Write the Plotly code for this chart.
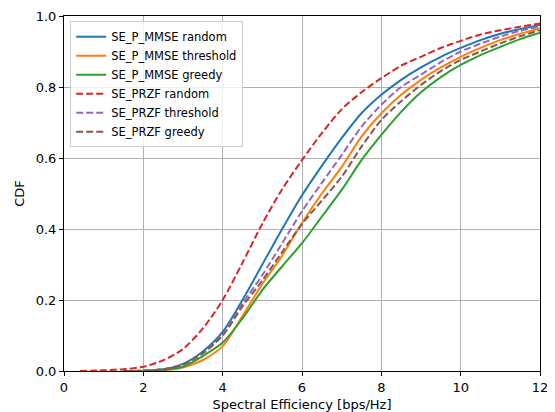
import plotly.graph_objects as go

# CDF curves (x in bps/Hz)
x_red = [0.4, 1.0, 1.5, 2.0, 2.5, 3.0, 3.5, 4.0, 4.5, 5.0, 5.5, 6.0, 6.5, 7.0, 7.5, 8.0, 8.5, 9.0, 9.5, 10.0, 10.5, 11.0, 11.5, 12.0]
przf_random = [0.0, 0.002, 0.005, 0.012, 0.03, 0.062, 0.12, 0.2, 0.305, 0.415, 0.512, 0.594, 0.67, 0.737, 0.785, 0.825, 0.86, 0.885, 0.91, 0.93, 0.948, 0.96, 0.97, 0.979]

x_grid = [1.5, 2.0, 2.5, 3.0, 3.5, 4.0, 4.5, 5.0, 5.5, 6.0, 6.5, 7.0, 7.5, 8.0, 8.5, 9.0, 9.5, 10.0, 10.5, 11.0, 11.5, 12.0]
pmmse_random = [0.0, 0.001, 0.005, 0.02, 0.055, 0.11, 0.2, 0.3, 0.4, 0.495, 0.578, 0.656, 0.726, 0.778, 0.82, 0.855, 0.885, 0.91, 0.932, 0.95, 0.963, 0.975]
pmmse_threshold = [0.0, 0.0, 0.002, 0.01, 0.031, 0.07, 0.155, 0.245, 0.325, 0.417, 0.5, 0.575, 0.66, 0.726, 0.778, 0.82, 0.855, 0.885, 0.91, 0.932, 0.95, 0.965]
pmmse_greedy = [0.0, 0.0, 0.003, 0.012, 0.042, 0.08, 0.148, 0.228, 0.295, 0.36, 0.435, 0.51, 0.594, 0.665, 0.73, 0.785, 0.828, 0.862, 0.89, 0.913, 0.935, 0.953]
przf_threshold = [0.0, 0.001, 0.005, 0.018, 0.05, 0.102, 0.19, 0.27, 0.36, 0.45, 0.53, 0.608, 0.688, 0.75, 0.8, 0.835, 0.87, 0.9, 0.922, 0.942, 0.958, 0.97]
przf_greedy = [0.0, 0.001, 0.005, 0.018, 0.05, 0.1, 0.182, 0.255, 0.335, 0.414, 0.48, 0.547, 0.632, 0.707, 0.76, 0.806, 0.845, 0.876, 0.9, 0.923, 0.943, 0.96]

series = [
    ("SE_P_MMSE random", x_grid, pmmse_random, "#1f77b4", "solid"),
    ("SE_P_MMSE threshold", x_grid, pmmse_threshold, "#ff7f0e", "solid"),
    ("SE_P_MMSE greedy", x_grid, pmmse_greedy, "#2ca02c", "solid"),
    ("SE_PRZF random", x_red, przf_random, "#d62728", "7px,3px"),
    ("SE_PRZF threshold", x_grid, przf_threshold, "#9467bd", "7px,3px"),
    ("SE_PRZF greedy", x_grid, przf_greedy, "#8c564b", "7px,3px"),
]

fig = go.Figure()
for name, xs, ys, color, dash in series:
    fig.add_trace(go.Scatter(
        x=xs, y=ys, mode="lines", name=name,
        line=dict(color=color, width=2, dash=dash, shape="spline", smoothing=0.8),
    ))

axis_style = dict(
    showgrid=True, gridcolor="#b0b0b0", gridwidth=1,
    showline=True, linecolor="black", linewidth=1, mirror=True,
    ticks="outside", ticklen=4, tickcolor="black",
    zeroline=False, tickfont=dict(size=13, color="black"),
    automargin=False,
)

# page body keeps an 8px margin, so the figure is sized to fit the window
fig.update_layout(
    width=547, height=404,
    margin=dict(l=56, r=15, t=8, b=41),
    paper_bgcolor="white", plot_bgcolor="white",
    font=dict(family="DejaVu Sans", color="black"),
    xaxis=dict(range=[0, 12], dtick=2, title=dict(text="Spectral Efficiency [bps/Hz]", font=dict(size=13), standoff=8), **axis_style),
    yaxis=dict(range=[0, 1], dtick=0.2, tickformat=".1f", title=dict(text="CDF", font=dict(size=13), standoff=8), **axis_style),
    legend=dict(
        x=0.013, y=0.985, xanchor="left", yanchor="top",
        bgcolor="rgba(255,255,255,0.8)", bordercolor="#cccccc", borderwidth=1,
        font=dict(size=11.5), tracegroupgap=0, itemwidth=30,
    ),
    showlegend=True,
)

fig.write_html("out.html")
